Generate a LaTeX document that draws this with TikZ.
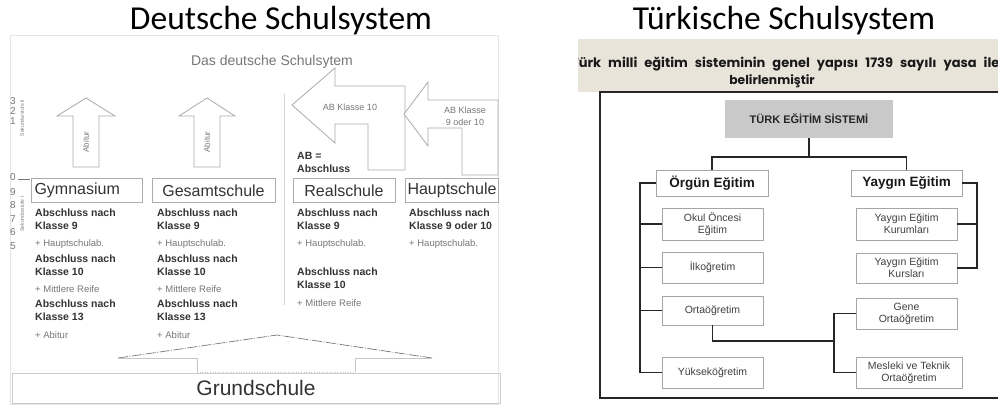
\documentclass[tikz,border=0pt]{standalone}
\usepackage{fontspec}
\setmainfont{Liberation Sans}
\newfontfamily\calfont{Carlito}
\newfontfamily\popfont{Poppins}
\definecolor{ltgray}{HTML}{AAAAAA}
\definecolor{txgray}{HTML}{777777}
\definecolor{dark}{HTML}{333333}
\definecolor{beige}{HTML}{E9E4DA}
\definecolor{boxgray}{HTML}{C9C9C9}
\tikzset{
  title/.style={anchor=base,font=\calfont\fontsize{33.5}{36}\selectfont},
  gb/.style={anchor=base west,inner sep=0pt,text=dark,font=\bfseries\fontsize{10.5}{12}\selectfont},
  gn/.style={anchor=base west,inner sep=0pt,text=txgray,font=\fontsize{9.5}{11}\selectfont},
  schoolbox/.style={draw=gray!65,line width=0.9pt,inner sep=0pt,text=dark,font=\fontsize{16}{18}\selectfont},
  blockarrow/.style={draw=ltgray,fill=white,line width=0.8pt},
  numtxt/.style={text=txgray,inner sep=0pt,font=\fontsize{10}{10}\selectfont},
  tinytxt/.style={text=txgray,inner sep=0pt,rotate=90,font=\fontsize{5}{5}\selectfont},
  tkbox/.style={draw=gray!70,line width=0.7pt,inner sep=0pt,align=center,text=black!75,font=\fontsize{10.5}{12}\selectfont},
  tkhead/.style={draw=gray!70,line width=0.7pt,inner sep=0pt,text=black!90,font=\bfseries\fontsize{13.5}{15}\selectfont},
  conn/.style={draw=black!85,line width=1.5pt}
}
\begin{document}
\begin{tikzpicture}[x=1pt,y=-1pt]
\useasboundingbox (0,0) rectangle (998,405);
\fill[white] (0,0) rectangle (998,405);

% ---------- titles ----------
\node[title] (tde) at (281,29) {Deutsche Schulsystem};
\node[title] (ttr) at (784,29) {Türkische Schulsystem};

% ---------- German diagram ----------
\draw[gray!20,line width=0.6pt] (10,35) rectangle (498,404);
\node[text=txgray,font=\fontsize{14}{16}\selectfont] (dtit) at (272,62) {Das deutsche Schulsytem};

% left scale
\node[numtxt] (n3) at (13,101) {3};
\node[numtxt] (n2) at (13,111) {2};
\node[numtxt] (n1) at (13,121) {1};
\node[tinytxt] (sek2) at (22,118) {Sekundarstufe II};
\node[numtxt] (n0) at (13,177) {0};
\draw[txgray,line width=0.5pt] (18,179) -- (30,179);
\node[numtxt] (n9) at (13,192) {9};
\node[numtxt] (n8) at (13,205) {8};
\node[numtxt] (n7) at (13,219) {7};
\node[numtxt] (n6) at (13,232) {6};
\node[numtxt] (n5) at (13,246) {5};
\node[tinytxt] (sek1) at (22,214) {Sekundarstufe I};

% Abitur arrows
\draw[blockarrow] (73,167) -- (73,116) -- (57,116) -- (86,98) -- (115,116) -- (99,116) -- (99,167) -- cycle;
\node[text=txgray,rotate=90,inner sep=0pt,font=\fontsize{8}{8}\selectfont] (ab1) at (86,142) {Abitur};
\draw[blockarrow] (194,167) -- (194,116) -- (179,116) -- (207,98) -- (235,116) -- (220,116) -- (220,167) -- cycle;
\node[text=txgray,rotate=90,inner sep=0pt,font=\fontsize{8}{8}\selectfont] (ab2) at (207,142) {Abitur};

% separator
\draw[gray!35,line width=0.8pt] (284,94) -- (284,305);

% bent arrows
\draw[blockarrow] (405,170) -- (405,86) -- (335,86) -- (335,68) -- (292,105) -- (335,143) -- (335,124) -- (368,124) -- (368,170) -- cycle;
\node[text=txgray,inner sep=0pt,font=\fontsize{9}{9}\selectfont] (ak10) at (350,107) {AB Klasse 10};
\draw[blockarrow] (498,175) -- (498,100) -- (428,100) -- (428,82) -- (404,114) -- (428,146) -- (428,128) -- (462,128) -- (462,175) -- cycle;
\node[text=txgray,inner sep=0pt,align=center,font=\fontsize{9}{12}\selectfont] (ak9) at (465,116) {AB Klasse\\9 oder 10};
\node[gb] (abeq) at (297,159) {AB =};
\node[gb] (absch) at (297,172) {Abschluss};

% school boxes
\node[schoolbox,minimum width=111pt,minimum height=24pt,text width=105pt] (gym) at (87,190.5) {Gymnasium};
\node[schoolbox,minimum width=123pt,minimum height=24pt] (ges) at (213.5,190.5) {Gesamtschule};
\node[schoolbox,minimum width=102pt,minimum height=24pt] (real) at (344,190.5) {Realschule};
\node[schoolbox,minimum width=93pt,minimum height=24pt] (haupt) at (452,190.5) {Hauptschule};

% column texts
\foreach \t/\y/\s [count=\i] in {Abschluss nach/216/gb, Klasse 9/229/gb, + Hauptschulab./246/gn, Abschluss nach/262/gb, Klasse 10/275/gb, + Mittlere Reife/292/gn, Abschluss nach/307/gb, Klasse 13/320/gb, + Abitur/338/gn}
  {\node[\s] (gy\i) at (35,\y) {\t};}
\foreach \t/\y/\s [count=\i] in {Abschluss nach/216/gb, Klasse 9/229/gb, + Hauptschulab./246/gn, Abschluss nach/262/gb, Klasse 10/275/gb, + Mittlere Reife/292/gn, Abschluss nach/307/gb, Klasse 13/320/gb, + Abitur/338/gn}
  {\node[\s] (ge\i) at (157,\y) {\t};}
\foreach \t/\y/\s [count=\i] in {Abschluss nach/216/gb, Klasse 9/229/gb, + Hauptschulab./246/gn, Abschluss nach/275/gb, Klasse 10/288/gb, + Mittlere Reife/306/gn}
  {\node[\s] (re\i) at (297,\y) {\t};}
\foreach \t/\y/\s [count=\i] in {Abschluss nach/216/gb, Klasse 9 oder 10/229/gb, + Hauptschulab./246/gn}
  {\node[\s] (ha\i) at (409,\y) {\t};}

% roof and Grundschule
\draw[txgray,dash pattern=on 10pt off 1.5pt on 1pt off 1.5pt,line width=0.7pt] (118,358) -- (277,335) -- (432,358);
\draw[gray!45,line width=0.6pt] (118,358) -- (197,358) -- (197,372);
\draw[gray!45,line width=0.6pt] (432,358) -- (355,358) -- (355,372);
\draw[gray!45,dotted,line width=0.6pt] (197,372) -- (355,372);
\node[draw=gray!40,line width=0.6pt,minimum width=488pt,minimum height=30pt,inner sep=0pt,text=dark,font=\fontsize{21}{22}\selectfont] (grund) at (256,388) {Grundschule};

% ---------- Turkish diagram ----------
\fill[beige] (578,39) rectangle (998,92);
\begin{scope}
  \clip (578,39) rectangle (998,92);
  \node[anchor=base west,inner sep=0pt,text=black!90,font=\popfont\bfseries\fontsize{13}{14}\selectfont] (hd1) at (571,67) {\spaceskip=7pt plus 1pt\relax Türk milli eğitim sisteminin genel yapısı 1739 sayılı yasa ile};
\end{scope}
\node[anchor=base,inner sep=0pt,text=black!90,font=\popfont\bfseries\fontsize{12.3}{14}\selectfont] (hd2) at (772,84) {belirlenmiştir};
\begin{scope}
  \clip (590,85) rectangle (998,405);
  \draw[black!85,line width=1.6pt] (1010,92) -- (600,92) -- (600,398) -- (1010,398);
\end{scope}

\node[fill=boxgray,minimum width=168pt,minimum height=38pt,inner sep=0pt,text=black!85,font=\bfseries\fontsize{11}{12}\selectfont] (top) at (809,119) {TÜRK EĞİTİM SİSTEMİ};
\node[tkhead,minimum width=112pt,minimum height=26pt] (org) at (712,183) {Örgün Eğitim};
\node[tkhead,minimum width=111pt,minimum height=26pt] (yay) at (906.5,183) {Yaygın Eğitim};
\node[tkbox,minimum width=101pt,minimum height=32pt] (okul) at (712.5,224) {Okul Öncesi\\Eğitim};
\node[tkbox,minimum width=101pt,minimum height=31pt] (ilk) at (712.5,267.5) {İlkoğretim};
\node[tkbox,minimum width=101pt,minimum height=29pt] (orta) at (712.5,310.5) {Ortaöğretim};
\node[tkbox,minimum width=101pt,minimum height=31pt] (yuk) at (712.5,372.5) {Yükseköğretim};
\node[tkbox,minimum width=101pt,minimum height=32pt] (kur) at (906.5,224) {Yaygın Eğitim\\Kurumları};
\node[tkbox,minimum width=101pt,minimum height=30pt] (kurs) at (906.5,268) {Yaygın Eğitim\\Kursları};
\node[tkbox,minimum width=101pt,minimum height=31pt] (gene) at (906.5,313.5) {Gene\\Ortaöğretim};
\node[tkbox,minimum width=106pt,minimum height=31pt] (mes) at (909,372.5) {Mesleki ve Teknik\\Ortaöğretim};

\coordinate (lb) at (640,0);
\coordinate (rb) at (977,0);
\coordinate (mb) at (834,0);
\coordinate (split) at (809,157);
\draw[conn] (top.south) -- (split) -| (org.north);
\draw[conn] (split) -| (yay.north);
\draw[conn] (org.west) -- (org.west -| lb) |- (yuk.west);
\draw[conn] (okul.west) -- (okul.west -| lb);
\draw[conn] (ilk.west) -- (ilk.west -| lb);
\draw[conn] (orta.west) -- (orta.west -| lb);
\draw[conn] (yay.east) -- (yay.east -| rb) |- (kurs.east);
\draw[conn] (kur.east) -- (kur.east -| rb);
\draw[conn] (orta.south) |- (834,341);
\draw[conn] (gene.west) -- (gene.west -| mb) |- (mes.west);
\end{tikzpicture}
\end{document}
